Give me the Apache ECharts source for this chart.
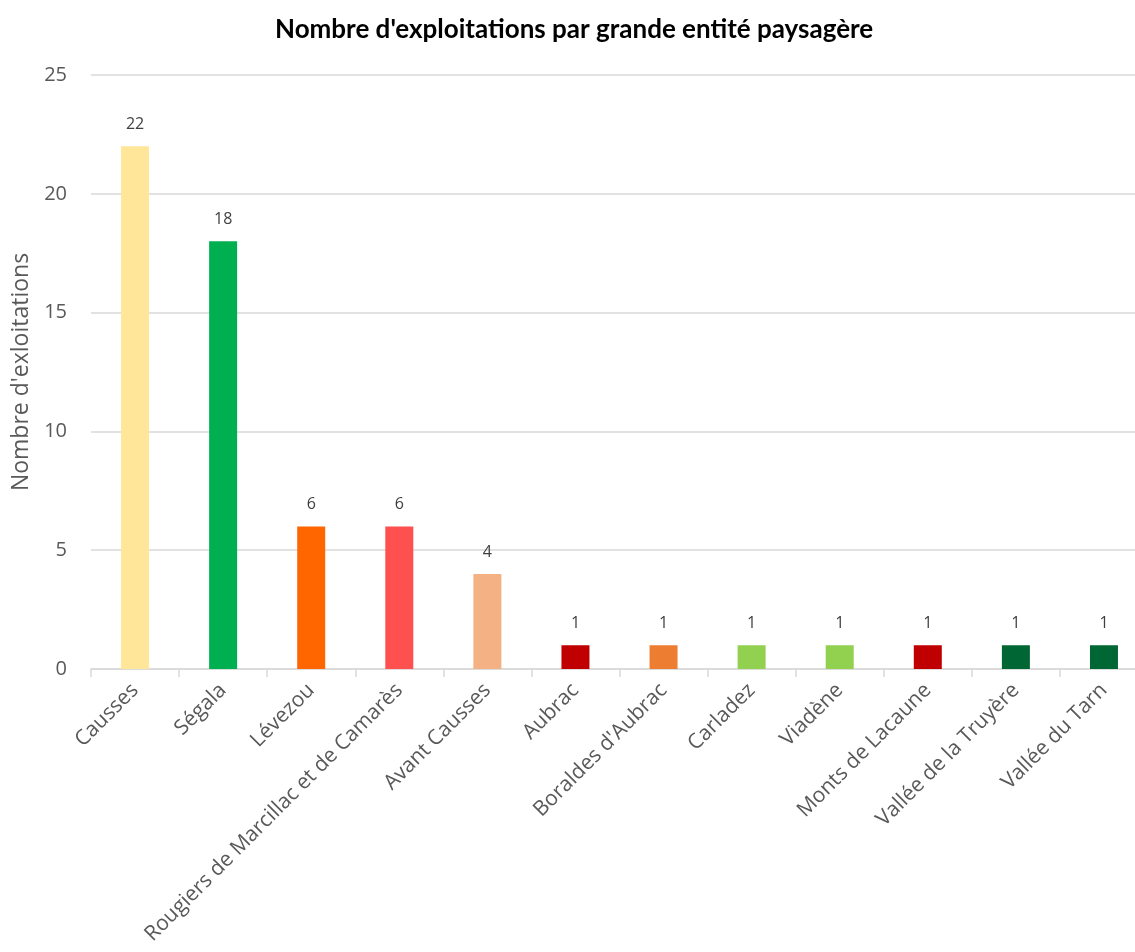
<!DOCTYPE html>
<html><head><meta charset="utf-8">
<script src="https://cdn.jsdelivr.net/npm/echarts@6/dist/echarts.min.js"></script>
<style>html,body{margin:0;padding:0;background:#fff;overflow:hidden}#c{width:1150px;height:952px}</style>
</head><body><div id="c"></div>
<script>
const categories = ["Causses","Ségala","Lévezou","Rougiers de Marcillac et de Camarès","Avant Causses","Aubrac","Boraldes d'Aubrac","Carladez","Viadène","Monts de Lacaune","Vallée de la Truyère","Vallée du Tarn"];
const values = [22,18,6,6,4,1,1,1,1,1,1,1];
const colors = ["#FFE699","#00B050","#FF6600","#FF5050","#F4B183","#C00000","#ED7D31","#92D050","#92D050","#C00000","#006633","#006633"];
const yTicks = {min:0,max:25,interval:5};

const chart = echarts.init(document.getElementById('c'));
chart.setOption({
  animation:false,
  title:{text:"Nombre d'exploitations par grande entité paysagère",left:270,top:12,
    textStyle:{fontFamily:'Lato',fontWeight:'bold',fontSize:26,color:'#000'}},
  grid:{left:91,width:1057,top:75,height:594,containLabel:false},
  xAxis:{type:'category',data:categories,
    axisLine:{lineStyle:{color:'#D9D9D9',width:1.5}},
    axisTick:{show:true,length:8,lineStyle:{color:'#D9D9D9',width:1.5}},
    axisLabel:{rotate:45,interval:0,margin:18,fontFamily:'Open Sans',fontSize:21,color:'#595959'}},
  yAxis:{type:'value',min:yTicks.min,max:yTicks.max,interval:yTicks.interval,
    name:"Nombre d'exloitations",nameLocation:'middle',nameGap:58,
    nameTextStyle:{fontFamily:'Open Sans',fontSize:23,color:'#595959'},
    axisLine:{show:false},axisTick:{show:false},
    splitLine:{lineStyle:{color:'#D9D9D9',width:1.5}},
    axisLabel:{fontFamily:'Open Sans',fontSize:20,color:'#595959',margin:24}},
  series:[{type:'bar',barWidth:28,
    data:values.map((v,i)=>({value:v,itemStyle:{color:colors[i]}})),
    label:{show:true,position:'top',distance:14,fontFamily:'Open Sans',fontSize:16,color:'#404040'}}]
});
</script></body></html>
